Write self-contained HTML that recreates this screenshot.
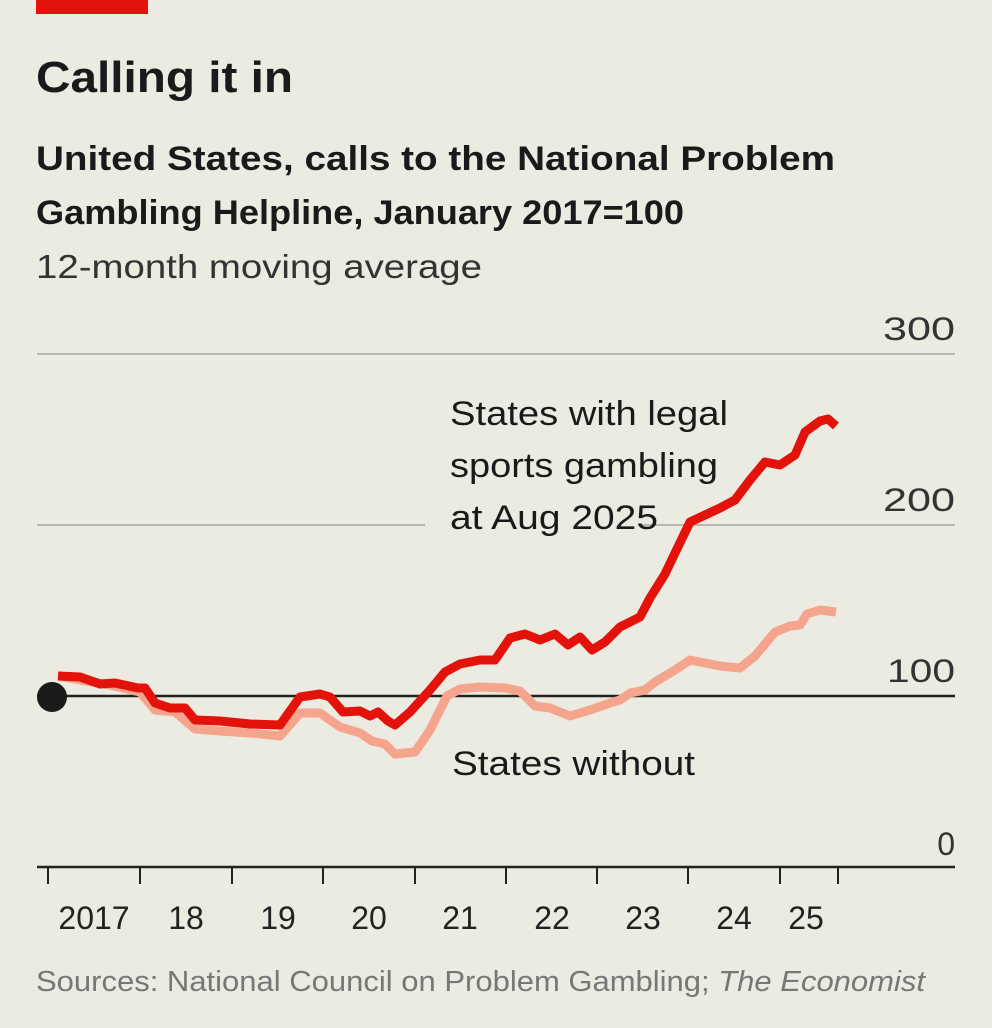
<!DOCTYPE html>
<html><head><meta charset="utf-8"><style>
body{margin:0;background:#ecebe1;}
svg text{font-family:"Liberation Sans",sans-serif;}
</style></head><body>
<svg width="992" height="1023" viewBox="0 0 992 1023" xmlns="http://www.w3.org/2000/svg">
<rect width="992" height="1023" fill="#ecebe1"/>
<rect x="36" y="0" width="112" height="14" fill="#e3120b"/>
<text x="36" y="92" font-size="44" font-weight="bold" fill="#1a1a1a" textLength="257" lengthAdjust="spacingAndGlyphs">Calling it in</text>
<text x="36" y="170" font-size="34" fill="#1a1a1a" font-weight="bold" textLength="799" lengthAdjust="spacingAndGlyphs">United States, calls to the National Problem</text>
<text x="36" y="224" font-size="34" fill="#1a1a1a" font-weight="bold" textLength="648" lengthAdjust="spacingAndGlyphs">Gambling Helpline, January 2017=100</text>
<text x="36" y="278" font-size="33" fill="#333" textLength="446" lengthAdjust="spacingAndGlyphs">12-month moving average</text>
<g stroke="#b8b7ae" stroke-width="2">
<line x1="37" y1="354" x2="955" y2="354"/>
<line x1="37" y1="525" x2="425" y2="525"/>
<line x1="640" y1="525" x2="955" y2="525"/>
</g>
<g font-size="32" fill="#333" text-anchor="end">
<text x="955" y="340" textLength="72" lengthAdjust="spacingAndGlyphs">300</text>
<text x="955" y="511" textLength="72" lengthAdjust="spacingAndGlyphs">200</text>
<text x="955" y="682" textLength="68" lengthAdjust="spacingAndGlyphs">100</text>
<text x="955" y="855">0</text>
</g>
<line x1="37" y1="696" x2="955" y2="696" stroke="#222" stroke-width="2.5"/>
<line x1="37" y1="867" x2="955" y2="867" stroke="#222" stroke-width="2.5"/>
<g stroke="#222" stroke-width="2">
<line x1="48" y1="867" x2="48" y2="884"/><line x1="140" y1="867" x2="140" y2="884"/>
<line x1="232" y1="867" x2="232" y2="884"/><line x1="323" y1="867" x2="323" y2="884"/>
<line x1="415" y1="867" x2="415" y2="884"/><line x1="506" y1="867" x2="506" y2="884"/>
<line x1="597" y1="867" x2="597" y2="884"/><line x1="688" y1="867" x2="688" y2="884"/>
<line x1="780" y1="867" x2="780" y2="884"/><line x1="838" y1="867" x2="838" y2="884"/>
</g>
<g font-size="32" fill="#222" text-anchor="middle">
<text x="94" y="929">2017</text><text x="186" y="929">18</text><text x="278" y="929">19</text>
<text x="369" y="929">20</text><text x="460" y="929">21</text><text x="552" y="929">22</text>
<text x="643" y="929">23</text><text x="734" y="929">24</text><text x="806" y="929">25</text>
</g>
<polyline fill="none" stroke="#f5a58e" stroke-width="9" stroke-linejoin="round" points="58,676 80,680 110,685 140,692 155,710 175,712 195,729 220,731 250,733 280,736 300,713 320,713 340,727 360,733 372,741 385,744 395,754 415,752 430,730 447,696 460,689 480,687 505,688 520,691 535,706 550,708 570,716 590,710 610,703 620,700 630,693 645,690 655,682 675,670 690,660 720,666 740,668 755,656 775,632 790,626 800,625 807,614 820,610 836,612"/>
<polyline fill="none" stroke="#e3120b" stroke-width="9" stroke-linejoin="round" points="58,676 80,677 100,684 115,683 138,688 145,688 155,703 170,708 185,708 195,720 220,721 250,724 280,725 300,697 320,694 330,697 343,712 360,711 370,716 378,712 388,721 395,725 410,712 430,690 445,672 460,664 480,660 495,660 510,638 525,634 540,640 555,634 568,645 580,637 592,650 605,642 620,627 640,617 650,598 665,574 675,553 690,522 705,515 720,508 735,500 750,480 765,462 780,465 795,455 805,432 820,421 828,419 836,426"/>
<circle cx="52" cy="697" r="15" fill="#1a1a1a"/>
<g font-size="34" fill="#1a1a1a">
<text x="450" y="425" textLength="278" lengthAdjust="spacingAndGlyphs">States with legal</text>
<text x="450" y="477" textLength="268" lengthAdjust="spacingAndGlyphs">sports gambling</text>
<text x="450" y="529" textLength="208" lengthAdjust="spacingAndGlyphs">at Aug 2025</text>
<text x="452" y="775" textLength="243" lengthAdjust="spacingAndGlyphs">States without</text>
</g>
<text x="36" y="991" font-size="29" fill="#777" textLength="889" lengthAdjust="spacingAndGlyphs">Sources: National Council on Problem Gambling; <tspan font-style="italic">The Economist</tspan></text>
</svg>
</body></html>
